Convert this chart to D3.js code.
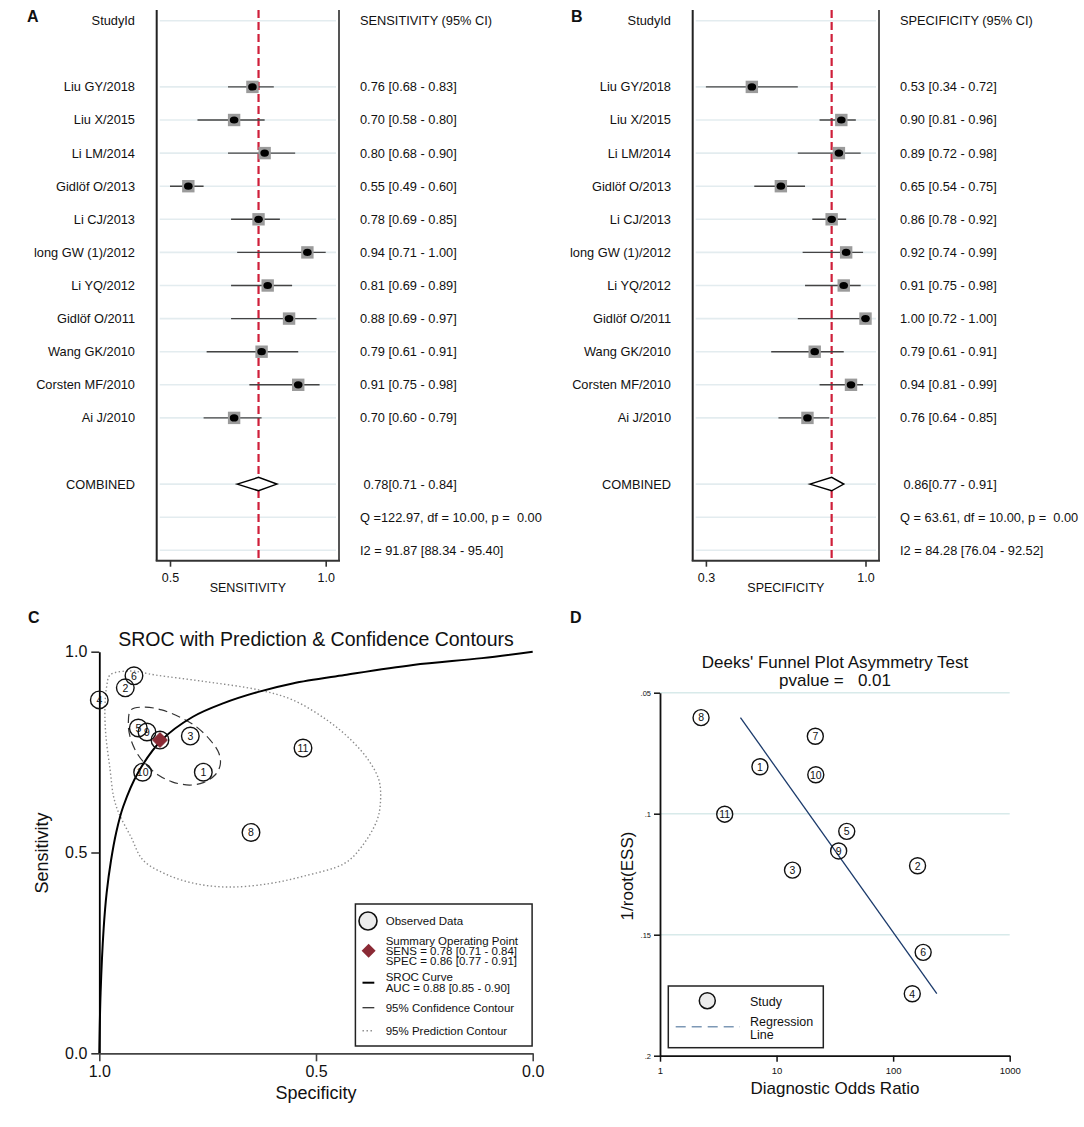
<!DOCTYPE html>
<html>
<head>
<meta charset="utf-8">
<script src="https://cdn.jsdelivr.net/npm/d3@7"></script>
<style>
body { margin: 0; background: #fff; }
text { font-family: Arial, "Liberation Sans", sans-serif; fill: #111; }
</style>
</head>
<body>
<div id="chart"></div>
<script>
var svgWidth = 1084;
var svgHeight = 1127;

// ---- forest plot data (A, B) ----
var studies = ["Liu GY/2018", "Liu X/2015", "Li LM/2014", "Gidlöf O/2013", "Li CJ/2013", "long GW (1)/2012",
  "Li YQ/2012", "Gidlöf O/2011", "Wang GK/2010", "Corsten MF/2010", "Ai J/2010"];
var sens   = [0.76, 0.70, 0.80, 0.55, 0.78, 0.94, 0.81, 0.88, 0.79, 0.91, 0.70];
var sensLo = [0.68, 0.58, 0.68, 0.49, 0.69, 0.71, 0.69, 0.69, 0.61, 0.75, 0.60];
var sensHi = [0.83, 0.80, 0.90, 0.60, 0.85, 1.00, 0.89, 0.97, 0.91, 0.98, 0.79];
var spec   = [0.53, 0.90, 0.89, 0.65, 0.86, 0.92, 0.91, 1.00, 0.79, 0.94, 0.76];
var specLo = [0.34, 0.81, 0.72, 0.54, 0.78, 0.74, 0.75, 0.72, 0.61, 0.81, 0.64];
var specHi = [0.72, 0.96, 0.98, 0.75, 0.92, 0.99, 0.98, 1.00, 0.91, 0.99, 0.85];
var pooledSens = [0.78, 0.71, 0.84];
var pooledSpec = [0.86, 0.77, 0.91];
var sensStats = ["Q =122.97, df = 10.00, p =  0.00", "I2 = 91.87 [88.34 - 95.40]"];
var specStats = ["Q = 63.61, df = 10.00, p =  0.00", "I2 = 84.28 [76.04 - 92.52]"];
var sensTicks = [0.49, 1.0], sensTickLabels = ["0.5", "1.0"];
var specTicks = [0.34, 1.0], specTickLabels = ["0.3", "1.0"];

// ---- SROC data (C) ----
var srocNo = [11, 10, 9, 8, 7, 6, 5, 4, 3, 2, 1];
var curveSpec = [1.0, 0.997, 0.990, 0.983, 0.973, 0.961, 0.945, 0.910, 0.856, 0.784, 0.713, 0.633, 0.554, 0.434, 0.276, 0.117, 0.0];
var curveSens = [0.0, 0.15, 0.31, 0.40, 0.48, 0.55, 0.614, 0.70, 0.78, 0.838, 0.872, 0.90, 0.921, 0.942, 0.967, 0.984, 1.0];
var confSpec = [0.927, 0.895, 0.856, 0.816, 0.776, 0.744, 0.724, 0.721, 0.733, 0.760, 0.792, 0.832, 0.864, 0.895, 0.915, 0.929, 0.933];
var confSens = [0.855, 0.862, 0.855, 0.838, 0.813, 0.780, 0.747, 0.718, 0.693, 0.674, 0.668, 0.676, 0.693, 0.722, 0.751, 0.788, 0.822];
var predSpec = [0.975, 0.929, 0.871, 0.752, 0.633, 0.554, 0.475, 0.419, 0.379, 0.355, 0.351, 0.359, 0.395, 0.434,
  0.529, 0.611, 0.702, 0.776, 0.842, 0.899, 0.927, 0.955, 0.967, 0.975, 0.985, 0.987, 0.983];
var predSens = [0.942, 0.952, 0.942, 0.925, 0.905, 0.880, 0.830, 0.780, 0.730, 0.681, 0.631, 0.581, 0.514, 0.473,
  0.441, 0.422, 0.414, 0.422, 0.444, 0.481, 0.539, 0.598, 0.639, 0.705, 0.793, 0.863, 0.913];

// ---- Deeks data (D) ----
var deeksNo  = [1, 2, 3, 4, 5, 6, 7, 8, 9, 10, 11];
var deeksDor = [7.2, 162, 13.7, 146, 40.0, 181, 21.5, 2.25, 34.1, 21.7, 3.59];
var deeksEss = [0.0806, 0.1215, 0.1233, 0.1744, 0.1073, 0.1573, 0.0680, 0.0603, 0.1154, 0.0839, 0.1002];
var regDor = [4.9, 237];
var regEss = [0.0603, 0.1744];

var svg = d3.select("#chart").append("svg")
  .attr("width", svgWidth)
  .attr("height", svgHeight);

svg.append("rect").attr("width", svgWidth).attr("height", svgHeight).attr("fill", "#fff");

// forest plot panel
function forest(o) {
  var g = svg.append("g");
  var x = d3.scaleLinear().domain(o.ticks).range(o.range);
  var rowY = function(i) { return 20.7 + i * 33.1; };
  var boxTop = 10, boxBottom = 560.7;
  var gridRows = [0].concat(d3.range(2, 13), [14, 15, 16]);

  g.selectAll(".grid").data(gridRows).enter().append("line")
    .attr("x1", o.box[0] + 3).attr("x2", o.box[1] - 3)
    .attr("y1", d => rowY(d)).attr("y2", d => rowY(d))
    .attr("stroke", "#e3ecef").attr("stroke-width", 1.6);

  // box sides
  g.append("line").attr("x1", o.box[0]).attr("x2", o.box[0]).attr("y1", boxTop).attr("y2", boxBottom)
    .attr("stroke", "#222").attr("stroke-width", 2);
  g.append("line").attr("x1", o.box[1]).attr("x2", o.box[1]).attr("y1", boxTop).attr("y2", boxBottom)
    .attr("stroke", "#555").attr("stroke-width", 2);
  g.append("line").attr("x1", o.box[0] - 1).attr("x2", o.box[1] + 1).attr("y1", boxBottom).attr("y2", boxBottom)
    .attr("stroke", "#333").attr("stroke-width", 2);

  var axis = g.append("g")
    .attr("transform", `translate(0,${boxBottom})`)
    .call(d3.axisBottom(x).tickValues(o.ticks).tickFormat((d, i) => o.tickLabels[i]).tickSize(6).tickSizeOuter(0).tickPadding(6));
  axis.select(".domain").remove();
  axis.selectAll("line").attr("stroke", "#333").attr("stroke-width", 1.6);
  axis.selectAll("text").style("font-size", "12.5px").attr("fill", "#111");

  g.append("text").attr("x", (o.box[0] + o.box[1]) / 2).attr("y", 592)
    .attr("text-anchor", "middle").style("font-size", "12.5px").text(o.title);

  // pooled estimate line
  g.append("line").attr("x1", x(o.pooled[0])).attr("x2", x(o.pooled[0]))
    .attr("y1", boxTop).attr("y2", boxBottom)
    .attr("stroke", "#cf1f3a").attr("stroke-width", 2.2).attr("stroke-dasharray", "8,4");

  // labels column
  g.append("text").attr("x", o.labelX).attr("y", rowY(0)).attr("dy", "0.35em")
    .attr("text-anchor", "end").style("font-size", "12.8px").text("StudyId");
  g.append("text").attr("x", o.valX).attr("y", rowY(0)).attr("dy", "0.35em")
    .style("font-size", "12.8px").text(o.header);

  var rows = g.selectAll(".row").data(studies).enter().append("g")
    .attr("transform", (d, i) => `translate(0,${rowY(i + 2)})`);

  rows.append("text").attr("x", o.labelX).attr("dy", "0.35em")
    .attr("text-anchor", "end").style("font-size", "12.8px").text(d => d);
  rows.append("text").attr("x", o.valX).attr("dy", "0.35em").style("font-size", "12.8px")
    .text((d, i) => `${o.est[i].toFixed(2)} [${o.lo[i].toFixed(2)} - ${o.hi[i].toFixed(2)}]`);

  rows.append("line").attr("x1", (d, i) => x(o.lo[i])).attr("x2", (d, i) => x(o.hi[i]))
    .attr("stroke", "#444").attr("stroke-width", 1.4);
  rows.append("rect").attr("x", (d, i) => x(o.est[i]) - 6.2).attr("y", -6.2)
    .attr("width", 12.4).attr("height", 12.4).attr("fill", "#9b9b9b");
  rows.append("ellipse").attr("cx", (d, i) => x(o.est[i])).attr("rx", 4.3).attr("ry", 3.6).attr("fill", "#000");

  // combined
  var cy = rowY(14);
  g.append("text").attr("x", o.labelX).attr("y", cy).attr("dy", "0.35em")
    .attr("text-anchor", "end").style("font-size", "12.8px").text("COMBINED");
  g.append("path")
    .attr("d", `M${x(o.pooled[1])},${cy} L${x(o.pooled[0])},${cy - 6.7} L${x(o.pooled[2])},${cy} L${x(o.pooled[0])},${cy + 6.7} Z`)
    .attr("fill", "#fff").attr("stroke", "#000").attr("stroke-width", 1.5);
  g.append("text").attr("x", o.valX + 3.5).attr("y", cy).attr("dy", "0.35em").style("font-size", "12.8px")
    .text(`${o.pooled[0].toFixed(2)}[${o.pooled[1].toFixed(2)} - ${o.pooled[2].toFixed(2)}]`);
  o.stats.forEach(function(s, k) {
    g.append("text").attr("x", o.valX).attr("y", rowY(15 + k)).attr("dy", "0.35em")
      .style("font-size", "12.8px").style("white-space", "pre").text(s);
  });

  g.append("text").attr("x", o.letterX).attr("y", 22).style("font-size", "16px")
    .style("font-weight", "bold").text(o.letter);
}

forest({ letter: "A", letterX: 27, box: [156.7, 339], range: [170, 325.7], ticks: sensTicks, tickLabels: sensTickLabels,
  est: sens, lo: sensLo, hi: sensHi, pooled: pooledSens, stats: sensStats, labelX: 135, valX: 360,
  header: "SENSITIVITY (95% CI)", title: "SENSITIVITY" });
forest({ letter: "B", letterX: 571, box: [692.7, 879], range: [705.9, 865.5], ticks: specTicks, tickLabels: specTickLabels,
  est: spec, lo: specLo, hi: specHi, pooled: pooledSpec, stats: specStats, labelX: 671, valX: 900,
  header: "SPECIFICITY (95% CI)", title: "SPECIFICITY" });

// ---- C: SROC ----
var cg = svg.append("g");
var cx = d3.scaleLinear().domain([1, 0]).range([99.3, 532.7]);
var cyS = d3.scaleLinear().domain([0, 1]).range([1053.3, 651.7]);

cg.append("text").attr("x", 28).attr("y", 623).style("font-size", "16px").style("font-weight", "bold").text("C");
cg.append("text").attr("x", 316).attr("y", 645.5).attr("text-anchor", "middle")
  .style("font-size", "19.5px").attr("fill", "#1a2340").text("SROC with Prediction & Confidence Contours");

var predPts = predSpec.map((d, i) => [cx(d), cyS(predSens[i])]);
cg.append("path").attr("d", d3.line().curve(d3.curveCatmullRomClosed)(predPts))
  .attr("fill", "none").attr("stroke", "#8a8a8a").attr("stroke-width", 1.4).attr("stroke-dasharray", "1.4,2.4");

var confPts = confSpec.map((d, i) => [cx(d), cyS(confSens[i])]);
cg.append("path").attr("d", d3.line().curve(d3.curveCatmullRomClosed)(confPts))
  .attr("fill", "none").attr("stroke", "#333").attr("stroke-width", 1.2).attr("stroke-dasharray", "9,5");

var curvePts = curveSpec.map((d, i) => [cx(d), cyS(curveSens[i])]);
cg.append("path").attr("d", d3.line().curve(d3.curveCatmullRom.alpha(0.5))(curvePts))
  .attr("fill", "none").attr("stroke", "#000").attr("stroke-width", 2);

var yAxC = cg.append("g").attr("transform", "translate(99.3,0)")
  .call(d3.axisLeft(cyS).tickValues([0, 0.5, 1]).tickFormat(d3.format(".1f")).tickSize(8).tickSizeOuter(0).tickPadding(4));
yAxC.select(".domain").attr("stroke", "#000").attr("stroke-width", 1.8);
yAxC.selectAll("line").attr("stroke", "#333").attr("stroke-width", 1.6);
yAxC.selectAll("text").style("font-size", "16px").attr("fill", "#111");

var xAxC = cg.append("g").attr("transform", "translate(0,1053.3)")
  .call(d3.axisBottom(cx).tickValues([1, 0.5, 0]).tickFormat(d3.format(".1f")).tickSize(8).tickSizeOuter(0).tickPadding(4));
xAxC.select(".domain").attr("stroke", "#444").attr("stroke-width", 1.8);
xAxC.selectAll("line").attr("stroke", "#444").attr("stroke-width", 1.6);
xAxC.selectAll("text").style("font-size", "16px").attr("fill", "#111");

cg.append("text").attr("x", 316).attr("y", 1099).attr("text-anchor", "middle").style("font-size", "18px").text("Specificity");
cg.append("text").attr("transform", "translate(48,853) rotate(-90)").attr("text-anchor", "middle")
  .style("font-size", "18px").text("Sensitivity");

var cpts = cg.selectAll(".pt").data(srocNo).enter().append("g")
  .attr("transform", (d, i) => `translate(${cx(spec[i])},${cyS(sens[i])})`);
cpts.append("circle").attr("r", 8.8).attr("fill", "none").attr("stroke", "#111").attr("stroke-width", 1.4);
cpts.append("text").attr("text-anchor", "middle").attr("dy", "0.36em").style("font-size", "10.5px").text(d => d);

var sumSize = 7.5;
cg.append("path")
  .attr("transform", `translate(${cx(pooledSpec[0])},${cyS(pooledSens[0])})`)
  .attr("d", `M0,${-sumSize} L${sumSize},0 L0,${sumSize} L${-sumSize},0 Z`)
  .attr("fill", "#8b2a35").attr("stroke", "#7a1f2a").attr("stroke-width", 0.8);

// legend C
var lg = cg.append("g");
lg.append("rect").attr("x", 355.4).attr("y", 904).attr("width", 176.7).attr("height", 142)
  .attr("fill", "#fff").attr("stroke", "#222").attr("stroke-width", 1.5);
lg.append("circle").attr("cx", 368).attr("cy", 921).attr("r", 9).attr("fill", "#ececec").attr("stroke", "#111").attr("stroke-width", 1.6);
lg.append("path").attr("transform", "translate(368.6,950.7)").attr("d", "M0,-7 L7,0 L0,7 L-7,0 Z").attr("fill", "#8b2a35");
lg.append("line").attr("x1", 362.5).attr("x2", 374.3).attr("y1", 982.7).attr("y2", 982.7).attr("stroke", "#000").attr("stroke-width", 2);
lg.append("line").attr("x1", 362.5).attr("x2", 374.3).attr("y1", 1007.7).attr("y2", 1007.7).attr("stroke", "#333").attr("stroke-width", 1.3);
lg.append("line").attr("x1", 362.5).attr("x2", 374.3).attr("y1", 1030.7).attr("y2", 1030.7).attr("stroke", "#888")
  .attr("stroke-width", 1.4).attr("stroke-dasharray", "1.4,2.6");
var legText = [["Observed Data", 921], ["Summary Operating Point", 940.5], ["SENS = 0.78 [0.71 - 0.84]", 950.7],
  ["SPEC = 0.86 [0.77 - 0.91]", 960.7], ["SROC Curve", 977.3], ["AUC = 0.88 [0.85 - 0.90]", 988.3],
  ["95% Confidence Contour", 1007.7], ["95% Prediction Contour", 1030.7]];
lg.selectAll(".lt").data(legText).enter().append("text")
  .attr("x", 385.7).attr("y", d => d[1]).attr("dy", "0.36em").style("font-size", "11.5px").text(d => d[0]);

// ---- D: Deeks funnel ----
var dg = svg.append("g");
var dx = d3.scaleLog().domain([1, 1000]).range([660, 1009.7]);
var dy = d3.scaleLinear().domain([0.05, 0.2]).range([692.7, 1055.7]);

dg.append("text").attr("x", 570).attr("y", 623).style("font-size", "16px").style("font-weight", "bold").text("D");
dg.append("text").attr("x", 835).attr("y", 668).attr("text-anchor", "middle").style("font-size", "17px")
  .text("Deeks' Funnel Plot Asymmetry Test");
dg.append("text").attr("x", 835).attr("y", 686).attr("text-anchor", "middle").style("font-size", "17px")
  .style("white-space", "pre").text("pvalue =   0.01");

dg.selectAll(".grid").data([0.05, 0.1, 0.15]).enter().append("line")
  .attr("x1", 660).attr("x2", 1009.7).attr("y1", d => dy(d)).attr("y2", d => dy(d))
  .attr("stroke", "#d8eaea").attr("stroke-width", 1.5);

var yAxD = dg.append("g").attr("transform", "translate(660,0)")
  .call(d3.axisLeft(dy).tickValues([0.05, 0.1, 0.15, 0.2]).tickFormat(d => d3.format(".2~f")(d).replace(/^0/, ""))
    .tickSize(6).tickSizeOuter(0).tickPadding(3));
yAxD.select(".domain").attr("stroke", "#111").attr("stroke-width", 1.8);
yAxD.selectAll("line").attr("stroke", "#111").attr("stroke-width", 1.5);
yAxD.selectAll("text").style("font-size", "7.5px").attr("fill", "#111");

var xAxD = dg.append("g").attr("transform", "translate(0,1055.7)")
  .call(d3.axisBottom(dx).tickValues([1, 10, 100, 1000]).tickFormat(d3.format("d")).tickSize(6).tickSizeOuter(0).tickPadding(6));
xAxD.select(".domain").attr("stroke", "#111").attr("stroke-width", 1.8);
xAxD.selectAll("line").attr("stroke", "#111").attr("stroke-width", 1.5);
xAxD.selectAll("text").style("font-size", "9.5px").attr("fill", "#111");

dg.append("text").attr("x", 835).attr("y", 1094).attr("text-anchor", "middle").style("font-size", "17px").text("Diagnostic Odds Ratio");
dg.append("text").attr("transform", "translate(633,876) rotate(-90)").attr("text-anchor", "middle")
  .style("font-size", "17px").text("1/root(ESS)");

dg.append("line").attr("x1", dx(regDor[0])).attr("y1", dy(regEss[0])).attr("x2", dx(regDor[1])).attr("y2", dy(regEss[1]))
  .attr("stroke", "#1b3a6b").attr("stroke-width", 1.3);

var dpts = dg.selectAll(".pt").data(deeksNo).enter().append("g")
  .attr("transform", (d, i) => `translate(${dx(deeksDor[i])},${dy(deeksEss[i])})`);
dpts.append("circle").attr("r", 8).attr("fill", "none").attr("stroke", "#111").attr("stroke-width", 1.4);
dpts.append("text").attr("text-anchor", "middle").attr("dy", "0.36em").style("font-size", "10.5px").text(d => d);

// legend D
var dl = dg.append("g");
dl.append("rect").attr("x", 668.3).attr("y", 986).attr("width", 155).attr("height", 61.7)
  .attr("fill", "#fff").attr("stroke", "#222").attr("stroke-width", 1.5);
dl.append("circle").attr("cx", 707.3).attr("cy", 1000.7).attr("r", 8).attr("fill", "#ececec").attr("stroke", "#111").attr("stroke-width", 1.5);
dl.append("text").attr("x", 750).attr("y", 1001).attr("dy", "0.36em").style("font-size", "12.5px").text("Study");
dl.append("line").attr("x1", 675.7).attr("x2", 740).attr("y1", 1026.7).attr("y2", 1026.7)
  .attr("stroke", "#7d98b5").attr("stroke-width", 1.5).attr("stroke-dasharray", "10,6");
dl.append("text").attr("x", 750).attr("y", 1021.5).attr("dy", "0.36em").style("font-size", "12.5px").text("Regression");
dl.append("text").attr("x", 750).attr("y", 1034).attr("dy", "0.36em").style("font-size", "12.5px").text("Line");
</script>
</body>
</html>
